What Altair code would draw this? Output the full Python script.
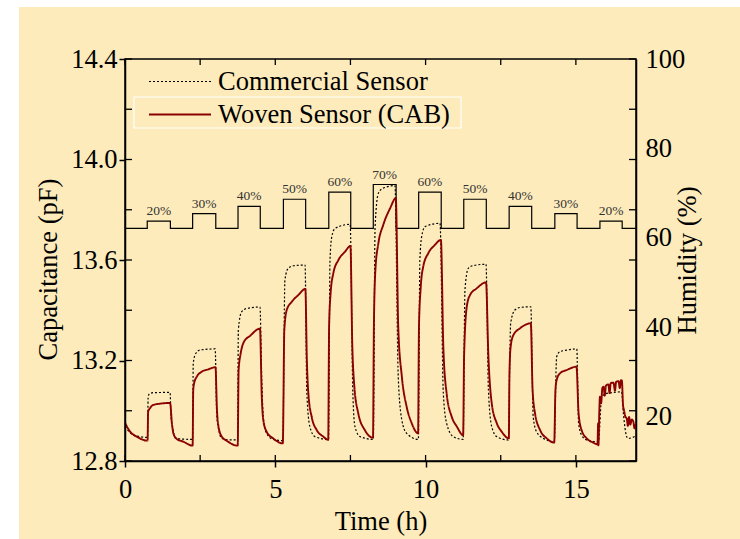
import altair as alt
import pandas as pd

W, H = 511, 402
FONT = "Times New Roman, Liberation Serif, DejaVu Serif, serif"

# ---- data ----
woven_t = [0.00, 0.17, 0.39, 0.75, 0.77, 0.83, 0.94, 1.16, 1.50, 1.56, 1.61, 1.72, 1.94, 2.25,
           2.27, 2.30, 2.39, 2.55, 2.77, 3.01, 3.06, 3.11, 3.22, 3.38, 3.75,
           3.78, 3.85, 3.96, 4.16, 4.49, 4.55, 4.60, 4.71, 4.93, 5.25,
           5.30, 5.38, 5.55, 5.77, 6.00, 6.05, 6.10, 6.21, 6.38, 6.60, 6.76,
           6.79, 6.84, 6.93, 7.10, 7.32, 7.50, 7.56, 7.63, 7.76, 7.98, 8.25,
           8.28, 8.33, 8.43, 8.59, 8.82, 9.01, 9.09, 9.21, 9.37, 9.54, 9.75,
           9.78, 9.84, 9.92, 10.09, 10.31, 10.51, 10.59, 10.70, 10.87, 11.04, 11.25,
           11.28, 11.37, 11.48, 11.70, 12.01, 12.09, 12.20, 12.37, 12.53, 12.77,
           12.79, 12.83, 12.92, 13.14, 13.50, 13.56, 13.64, 13.81, 14.03, 14.28,
           14.32, 14.36, 14.47, 14.69, 15.02, 15.09, 15.19, 15.36, 15.58, 15.72,
           15.74, 15.75, 15.78, 15.80, 15.84, 15.88, 15.92, 15.96, 16.00, 16.08,
           16.12, 16.16, 16.25, 16.30, 16.34, 16.42, 16.46, 16.50, 16.53, 16.57,
           16.60, 16.65, 16.69, 16.73, 16.77, 16.81, 16.86, 16.91, 16.95, 17.00]
woven_c = [12.952, 12.917, 12.897, 12.881, 12.996, 13.010, 13.023, 13.028, 13.031, 12.950, 12.910, 12.888, 12.877, 12.861,
           13.083, 13.109, 13.136, 13.155, 13.165, 13.173, 13.003, 12.937, 12.897, 12.881, 12.861,
           13.162, 13.229, 13.275, 13.298, 13.327, 13.056, 12.963, 12.917, 12.890, 12.870,
           13.321, 13.401, 13.434, 13.461, 13.485, 13.202, 13.069, 12.976, 12.923, 12.897, 12.884,
           13.335, 13.467, 13.547, 13.600, 13.633, 13.656, 13.268, 13.096, 12.990, 12.923, 12.893,
           13.335, 13.560, 13.667, 13.739, 13.806, 13.846, 13.335, 13.136, 13.016, 12.950, 12.910,
           13.335, 13.494, 13.573, 13.627, 13.660, 13.680, 13.255, 13.069, 12.976, 12.937, 12.903,
           13.215, 13.414, 13.461, 13.487, 13.511, 13.215, 13.030, 12.950, 12.917, 12.890,
           13.149, 13.255, 13.301, 13.328, 13.348, 13.083, 12.990, 12.923, 12.890, 12.873,
           13.083, 13.122, 13.149, 13.162, 13.175, 12.990, 12.923, 12.890, 12.873, 12.866,
           12.950, 12.862, 13.000, 13.056, 13.030, 13.090, 13.096, 13.060, 13.100, 13.105,
           13.070, 13.110, 13.112, 13.080, 13.115, 13.118, 13.090, 13.122, 13.120, 13.020,
           13.003, 12.975, 12.970, 12.940, 12.975, 12.945, 12.965, 12.957, 12.930, 12.950]

comm_t = [0.00, 0.28, 0.50, 0.75, 0.77, 0.81, 0.94, 1.50, 1.53, 1.58, 1.66, 1.83, 2.25,
          2.27, 2.36, 2.50, 3.00, 3.05, 3.10, 3.22, 3.49, 3.75,
          3.77, 3.88, 4.05, 4.49, 4.55, 4.60, 4.71, 4.93, 5.25,
          5.32, 5.43, 5.60, 5.99, 6.05, 6.15, 6.32, 6.77,
          6.82, 6.88, 6.99, 7.49, 7.58, 7.65, 7.82, 8.26,
          8.32, 8.43, 8.59, 8.98, 9.09, 9.21, 9.37, 9.76,
          9.81, 9.87, 9.98, 10.48, 10.59, 10.70, 10.92, 11.25,
          11.31, 11.42, 11.59, 12.01, 12.09, 12.20, 12.37, 12.75,
          12.83, 12.97, 13.14, 13.50, 13.58, 13.69, 13.92, 14.28,
          14.36, 14.47, 14.69, 15.03, 15.09, 15.19, 15.36, 15.75,
          15.86, 16.03, 16.52, 16.58, 16.69, 16.74, 17.00]
comm_c = [12.937, 12.903, 12.897, 12.894, 13.056, 13.067, 13.072, 13.073, 12.976, 12.937, 12.894, 12.888, 12.886,
          13.189, 13.229, 13.242, 13.246, 12.990, 12.937, 12.890, 12.884, 12.884,
          13.321, 13.394, 13.407, 13.413, 13.122, 12.976, 12.910, 12.886, 12.881,
          13.520, 13.567, 13.577, 13.580, 13.069, 12.937, 12.897, 12.886,
          13.600, 13.693, 13.726, 13.742, 13.069, 12.937, 12.897, 12.886,
          13.733, 13.866, 13.886, 13.896, 13.136, 12.963, 12.910, 12.886,
          13.600, 13.693, 13.733, 13.746, 13.069, 12.950, 12.897, 12.886,
          13.481, 13.567, 13.578, 13.583, 13.083, 12.937, 12.897, 12.884,
          13.348, 13.401, 13.411, 13.414, 12.976, 12.917, 12.890, 12.877,
          13.215, 13.235, 13.241, 13.246, 12.950, 12.903, 12.884, 12.877,
          13.056, 13.069, 13.075, 12.990, 12.897, 12.890, 12.900]

step_start = [0.74, 2.25, 3.76, 5.27, 6.78, 8.26, 9.77, 11.27, 12.78, 14.30, 15.80]
step_end = [1.51, 3.02, 4.50, 6.01, 7.51, 9.02, 10.52, 12.02, 13.53, 15.04, 16.54]
step_level = [63.7, 65.4, 67.0, 68.6, 70.2, 71.9, 70.2, 68.6, 67.0, 65.4, 63.7]
step_label = ["20%", "30%", "40%", "50%", "60%", "70%", "60%", "50%", "40%", "30%", "20%"]
base_level = 62.1

series_names = ["Commercial Sensor", "Woven Sensor (CAB)"]
x_labels = [0, 5, 10, 15]
x_all_ticks = [0, 2.5, 5, 7.5, 10, 12.5, 15]
cap_major = [12.8, 13.2, 13.6, 14.0, 14.4]
cap_all = [12.8, 13.0, 13.2, 13.4, 13.6, 13.8, 14.0, 14.2, 14.4]
hum_labels = [20, 40, 60, 80, 100]

# ---- tables ----
cap_df = pd.DataFrame({
    "time": comm_t + woven_t,
    "cap": comm_c + woven_c,
    "series": [series_names[0]] * len(comm_t) + [series_names[1]] * len(woven_t),
})
hum_t = [0.0]
hum_v = [base_level]
for s, e, l in zip(step_start, step_end, step_level):
    hum_t += [s, e]
    hum_v += [l, base_level]
hum_t.append(17.0)
hum_v.append(base_level)
hum_df = pd.DataFrame({"time": hum_t, "hum": hum_v})
lab_df = pd.DataFrame({
    "mid": [(s + e) / 2 for s, e in zip(step_start, step_end)],
    "hum": step_level,
    "label": step_label,
})

xscale = alt.Scale(domain=[0, 17], nice=False, zero=False)
capscale = alt.Scale(domain=[12.8, 14.4], nice=False, zero=False)
humscale = alt.Scale(domain=[10, 100], nice=False, zero=False)

FS = 26.5
legend = alt.Legend(
    orient="none", legendX=23, legendY=10, title=None, symbolType="stroke",
    symbolSize=3844, clipHeight=25, rowPadding=6, labelFont=FONT, labelFontSize=FS,
    labelColor="black", labelOffset=6, padding=0, labelLimit=500,
)

common = dict(labelFont=FONT, labelFontSize=FS, titleFont=FONT, titleFontSize=FS,
              labelColor="black", titleColor="black", titleFontWeight="normal",
              domainColor="black", domainWidth=1.5, grid=False, zindex=1, labelFlush=False)
x_axis = alt.Axis(
    values=x_labels, format="d", tickSize=6, tickColor="black", tickWidth=1.5,
    labelPadding=9, title="Time (h)",
    titleX=W / 2, titleY=68, titleAlign="center", titleBaseline="alphabetic", **common)
y_axis = alt.Axis(
    orient="left", values=cap_major, format=".1f", tickSize=6, tickColor="black", tickWidth=1.5,
    labelPadding=2, title="Capacitance (pF)", titleAngle=270, titleX=-69, titleY=210,
    titleAlign="center", titleBaseline="alphabetic", **common)
h_axis = alt.Axis(
    orient="right", values=hum_labels, ticks=False, labelPadding=9,
    title="Humidity (%)", titleAngle=270, titleX=59, titleY=H / 2,
    titleAlign="center", titleBaseline="alphabetic", **common)

one = pd.DataFrame({"k": [0]})
white_left = alt.Chart(one).mark_rect(color="white").encode(
    x=alt.value(-125), x2=alt.value(-106), y=alt.value(-59), y2=alt.value(H + 78))
white_top = alt.Chart(one).mark_rect(color="white").encode(
    x=alt.value(-125), x2=alt.value(W + 104), y=alt.value(-59), y2=alt.value(-52))
legend_box = alt.Chart(one).mark_rect(fill=None, stroke="white", strokeWidth=1.2).encode(
    x=alt.value(9), x2=alt.value(336), y=alt.value(38), y2=alt.value(69))

hum_line = alt.Chart(hum_df).mark_line(interpolate="step-after", color="black", strokeWidth=1.2).encode(
    x=alt.X("time:Q", scale=xscale, axis=x_axis),
    y=alt.Y("hum:Q", scale=humscale, axis=h_axis),
)
hum_text = alt.Chart(lab_df).mark_text(font=FONT, fontSize=13.5, color="#333333",
                                       baseline="alphabetic", dy=-6).encode(
    x=alt.X("mid:Q", scale=xscale, axis=x_axis),
    y=alt.Y("hum:Q", scale=humscale, axis=None),
    text="label:N",
)

lines = alt.Chart(cap_df).mark_line(interpolate="monotone").encode(
    x=alt.X("time:Q", scale=xscale, axis=x_axis),
    y=alt.Y("cap:Q", scale=capscale, axis=y_axis),
    color=alt.Color("series:N", scale=alt.Scale(domain=series_names, range=["#000000", "#8b0000"]), legend=legend),
    strokeDash=alt.StrokeDash("series:N", scale=alt.Scale(domain=series_names, range=[[2, 2], [1, 0]]), legend=legend),
    strokeWidth=alt.StrokeWidth("series:N", scale=alt.Scale(domain=series_names, range=[1.2, 1.9]), legend=legend),
)

ytick_df = pd.DataFrame({"cap": cap_all})
left_in = alt.Chart(ytick_df).mark_rule(color="black", strokeWidth=1.3).encode(
    y=alt.Y("cap:Q", scale=capscale, axis=None), x=alt.value(0), x2=alt.value(7))
right_in = alt.Chart(ytick_df).mark_rule(color="black", strokeWidth=1.3).encode(
    y=alt.Y("cap:Q", scale=capscale, axis=None), x=alt.value(W - 7), x2=alt.value(W))
xtick_df = pd.DataFrame({"time": x_all_ticks})
top_in = alt.Chart(xtick_df).mark_rule(color="black", strokeWidth=1.3).encode(
    x=alt.X("time:Q", scale=xscale, axis=x_axis), y=alt.value(0), y2=alt.value(6))
bottom_in = alt.Chart(xtick_df).mark_rule(color="black", strokeWidth=1.3).encode(
    x=alt.X("time:Q", scale=xscale, axis=x_axis), y=alt.value(H - 6), y2=alt.value(H))

chart = alt.layer(
    white_left, white_top, legend_box, hum_line, hum_text, lines,
    left_in, right_in, top_in, bottom_in
).resolve_scale(
    y="independent"
).properties(
    width=W, height=H,
    autosize=alt.AutoSizeParams(type="none"),
    padding={"left": 125, "top": 59, "right": 104, "bottom": 78},
    background="#fdebbb",
).configure_view(
    stroke="black", strokeWidth=1.5
).configure_legend(
    labelFont=FONT, labelFontSize=FS, labelColor="black"
)

chart.save("out.html", embed_options={"renderer": "svg", "actions": False})
